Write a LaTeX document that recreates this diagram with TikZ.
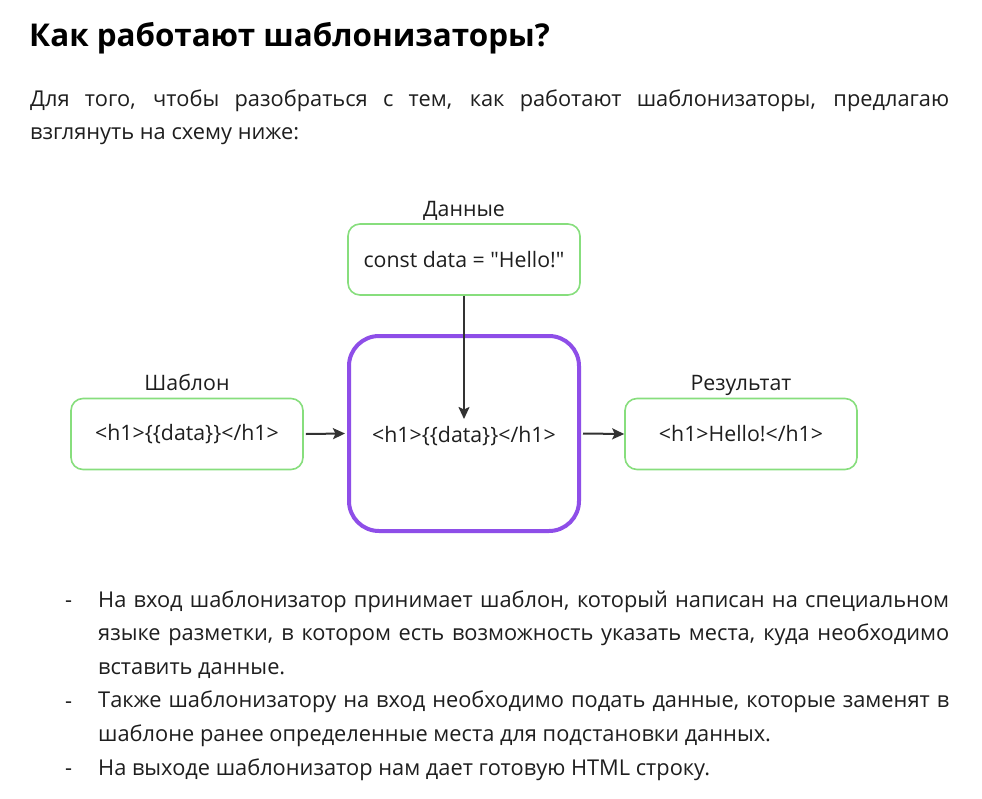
\documentclass[tikz,border=0pt]{standalone}
\usepackage{fontspec}
\setmainfont{Open Sans}
\newfontfamily\diagfont{Open Sans}
\usetikzlibrary{arrows.meta}
\definecolor{txt}{RGB}{30,30,30}
\definecolor{boxgreen}{RGB}{135,222,125}
\definecolor{procviolet}{RGB}{142,78,232}
\definecolor{arr}{RGB}{50,50,50}
\tikzset{
  greenbox/.style={draw=boxgreen, line width=1.6pt, rounded corners=12pt, minimum width=232pt, minimum height=71pt, fill=white, font=\diagfont\fontsize{21.3}{24}\selectfont, text=txt},
  procbox/.style={draw=procviolet, line width=4pt, rounded corners=30pt, minimum width=230pt, minimum height=195pt},
  boxlabel/.style={anchor=base, font=\diagfont\fontsize{21.3}{24}\selectfont, text=txt},
  flow/.style={draw=arr, line width=2pt, -{Stealth[length=12pt,width=11pt,inset=2.5pt]}},
  bodytext/.style={anchor=base west, inner sep=0pt, text=txt},
  dashmark/.style={anchor=base west, inner sep=0pt, text=txt, font=\fontsize{21.8}{33.6}\selectfont}
}
\begin{document}
\begin{tikzpicture}[x=1pt,y=-1pt]
\useasboundingbox[fill=white] (0,0) rectangle (982,798);
% heading
\node[anchor=base west, inner sep=0pt, text=black, font=\bfseries\fontsize{31.4}{36}\selectfont] (title) at (29,46.5) {Как работают шаблонизаторы?};
% intro paragraph (baseline of first line at 106)
\node[bodytext] (intro) at (30,106) {\parbox[t]{919pt}{\fontsize{21.8}{33}\selectfont Для того, чтобы разобраться с тем, как работают шаблонизаторы, предлагаю\linebreak взглянуть на схему ниже:}};
% diagram
\node[greenbox] (data) at (464,259.5) {const data = "Hello!"};
\node[boxlabel] (datalbl) at (464,216.5) {Данные};
\node[procbox] (engine) at (464,433.5) {};
\node[font=\diagfont\fontsize{21.3}{24}\selectfont, text=txt] (enginetxt) at (464,436) {<h1>\{\{data\}\}</h1>};
\node[greenbox] (tpl) at (187,434) {<h1>\{\{data\}\}</h1>};
\node[boxlabel] (tpllbl) at (187,390.5) {Шаблон};
\node[greenbox] (res) at (741,434) {<h1>Hello!</h1>};
\node[boxlabel] (reslbl) at (741,390.5) {Результат};
\coordinate (dataend) at (464,419);
\draw[flow] (data.south) -- (dataend);
\draw[flow] ([xshift=2pt]tpl.east) -- ([xshift=-2pt]engine.west);
\draw[flow] ([xshift=2pt]engine.east) -- (res.west);
% list
\node[dashmark] (dash1) at (65,607) {-};
\node[dashmark] (dash2) at (65,708) {-};
\node[dashmark] (dash3) at (65,775) {-};
\node[bodytext] (list) at (98,607) {\parbox[t]{851pt}{\fontsize{21.8}{33.6}\selectfont
На вход шаблонизатор принимает шаблон, который написан на специальном\linebreak языке разметки, в котором есть возможность указать места, куда необходимо\linebreak вставить данные.\\
Также шаблонизатору на вход необходимо подать данные, которые заменят в\linebreak шаблоне ранее определенные места для подстановки данных.\\
На выходе шаблонизатор нам дает готовую HTML строку.}};
\end{tikzpicture}
\end{document}
